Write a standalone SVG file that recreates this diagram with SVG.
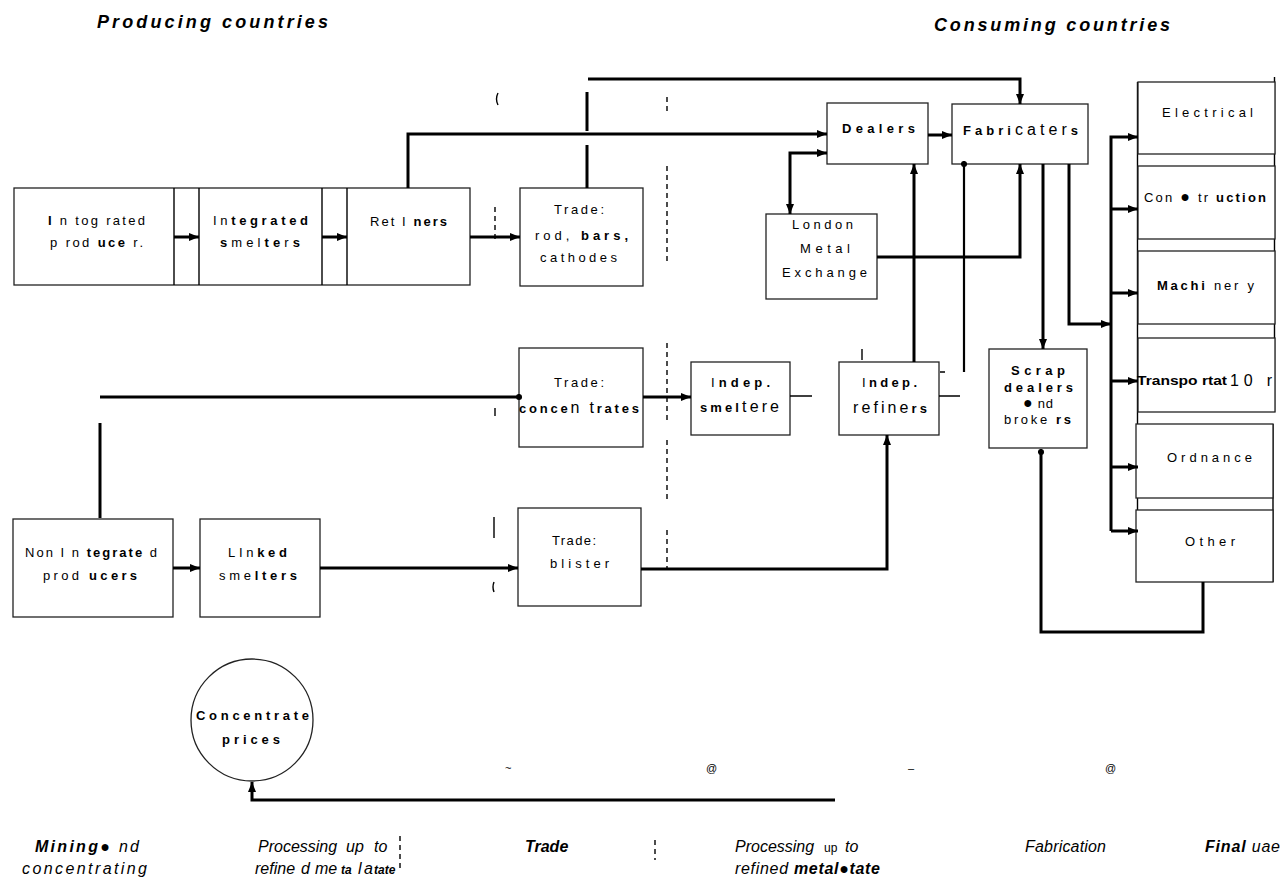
<svg xmlns="http://www.w3.org/2000/svg" width="1284" height="880" viewBox="0 0 1284 880">
<style>
.box{fill:#fff;stroke:#222;stroke-width:1.3}
.c{fill:none;stroke:#000;stroke-width:3}
.c2{fill:none;stroke:#000;stroke-width:2.2}
.thin{fill:none;stroke:#000;stroke-width:1.4}
.d{fill:none;stroke:#000;stroke-width:1.4;stroke-dasharray:5 4}
.t{font-family:"Liberation Sans",Arial,sans-serif;font-size:13px;fill:#000}
.b{font-weight:bold}
.i{font-style:italic}
.big{font-size:16px}
.h{font-family:"Liberation Sans",Arial,sans-serif;font-size:18px;font-weight:bold;font-style:italic}
.f{font-family:"Liberation Sans",Arial,sans-serif;font-size:16px;font-style:italic}
</style>
<defs>
<marker id="a" viewBox="0 0 10 8" markerWidth="10" markerHeight="8" refX="10" refY="4" orient="auto-start-reverse" markerUnits="userSpaceOnUse"><path d="M0,0L10,4L0,8z" fill="#000"/></marker>
<marker id="dot" viewBox="0 0 8 8" markerWidth="7" markerHeight="7" refX="4" refY="4" markerUnits="userSpaceOnUse"><circle cx="4" cy="4" r="3.5" fill="#000"/></marker>
</defs>
<rect width="1284" height="880" fill="#fff"/>

<g id="labels">
<text class="h" x="97" y="28" textLength="231" lengthAdjust="spacing">Producing countries</text>
<text class="h" x="934" y="31" textLength="236" lengthAdjust="spacing">Consuming countries</text>
</g>

<g id="integrated-chain">
<rect class="box" x="14" y="188" width="456" height="97"/>
<line class="thin" x1="174" y1="188" x2="174" y2="285"/>
<line class="thin" x1="199" y1="188" x2="199" y2="285"/>
<line class="thin" x1="322" y1="188" x2="322" y2="285"/>
<line class="thin" x1="347" y1="188" x2="347" y2="285"/>
</g>
<g id="n-integrated-producers">
<text class="t" x="48" y="225" textLength="97" lengthAdjust="spacing"><tspan class="b">I</tspan> n tog rated</text>
<text class="t" x="50" y="247" textLength="93" lengthAdjust="spacing">p rod <tspan class="b">uce</tspan> r.</text>
</g>
<g id="n-integrated-smelters">
<text class="t" x="213" y="225" textLength="95" lengthAdjust="spacing">In<tspan class="b">tegrated</tspan></text>
<text class="t" x="220" y="247" textLength="80" lengthAdjust="spacing"><tspan class="b">s</tspan>mel<tspan class="b">te</tspan>r<tspan class="b">s</tspan></text>
</g>
<g id="n-refiners">
<text class="t" x="370" y="226" textLength="77" lengthAdjust="spacing">Ret I <tspan class="b">ners</tspan></text>
</g>

<g id="n-trade-rod">
<rect class="box" x="520" y="188" width="123" height="98"/>
<text class="t" x="554" y="214" textLength="50" lengthAdjust="spacing">Trade:</text>
<text class="t" x="535" y="240" textLength="93" lengthAdjust="spacing">rod, <tspan class="b">bars,</tspan></text>
<text class="t" x="540" y="262" textLength="77" lengthAdjust="spacing">cathodes</text>
</g>

<g id="n-dealers">
<rect class="box" x="827" y="103" width="101" height="61"/>
<text class="t b" x="842" y="133" textLength="73" lengthAdjust="spacing">Dealers</text>
</g>
<g id="n-fabricators">
<rect class="box" x="952" y="104" width="136" height="60"/>
<text class="t" x="963" y="135" textLength="115" lengthAdjust="spacing"><tspan class="b">Fabri</tspan><tspan class="big">cater</tspan><tspan class="b">s</tspan></text>
</g>
<g id="n-lme">
<rect class="box" x="766" y="214" width="111" height="85"/>
<text class="t" x="792" y="229" textLength="61" lengthAdjust="spacing">London</text>
<text class="t" x="800" y="253" textLength="50" lengthAdjust="spacing">Metal</text>
<text class="t" x="782" y="277" textLength="85" lengthAdjust="spacing">Exchange</text>
</g>

<g id="end-uses">
<line class="thin" x1="1137.5" y1="82" x2="1137.5" y2="582"/>
<line class="thin" x1="1274.5" y1="77" x2="1274.5" y2="412"/>
<line class="thin" x1="1273" y1="424" x2="1273" y2="582"/>
</g>
<g id="n-electrical">
<rect class="box" x="1138" y="82" width="137" height="72"/>
<text class="t" x="1162" y="117" textLength="91" lengthAdjust="spacing">Electrical</text>
</g>
<g id="n-construction">
<rect class="box" x="1138" y="166" width="137" height="73"/>
<text class="t" x="1144" y="202" textLength="122" lengthAdjust="spacing">Con <tspan class="big">●</tspan> tr <tspan class="b">uction</tspan></text>
</g>
<g id="n-machinery">
<rect class="box" x="1138" y="251" width="137" height="73"/>
<text class="t" x="1157" y="290" textLength="97" lengthAdjust="spacing"><tspan class="b">Machi</tspan> ner y</text>
</g>
<g id="n-transportation">
<rect class="box" x="1138" y="338" width="137" height="74"/>
<text class="t b" x="1137" y="385" textLength="90" lengthAdjust="spacingAndGlyphs">Transpo rtat</text>
<text class="t big" x="1230" y="386" textLength="42" lengthAdjust="spacing">10 r</text>
</g>
<g id="n-ordnance">
<rect class="box" x="1136" y="424" width="137" height="74"/>
<text class="t" x="1167" y="462" textLength="85" lengthAdjust="spacing">Ordnance</text>
</g>
<g id="n-other">
<rect class="box" x="1136" y="510" width="137" height="72"/>
<text class="t" x="1185" y="546" textLength="50" lengthAdjust="spacing">Other</text>
</g>

<g id="n-trade-conc">
<rect class="box" x="519" y="348" width="124" height="99"/>
<text class="t" x="554" y="387" textLength="50" lengthAdjust="spacing">Trade:</text>
<text class="t" x="519" y="413" textLength="120" lengthAdjust="spacing"><tspan class="b">conce</tspan><tspan class="big">n t</tspan><tspan class="b">rates</tspan></text>
</g>
<g id="n-indep-smelters">
<rect class="box" x="691" y="362" width="99" height="73"/>
<text class="t" x="711" y="387" textLength="59" lengthAdjust="spacing">I<tspan class="b">ndep.</tspan></text>
<text class="t" x="700" y="412" textLength="79" lengthAdjust="spacing"><tspan class="b">smel</tspan><tspan class="big">tere</tspan></text>
</g>
<g id="n-indep-refiners">
<rect class="box" x="839" y="362" width="100" height="73"/>
<text class="t" x="862" y="387" textLength="55" lengthAdjust="spacing">I<tspan class="b">ndep.</tspan></text>
<text class="t" x="853" y="413" textLength="74" lengthAdjust="spacing"><tspan class="big">refine</tspan><tspan class="b">rs</tspan></text>
</g>
<g id="n-scrap">
<rect class="box" x="989" y="349" width="98" height="99"/>
<text class="t b" x="1011" y="375" textLength="54" lengthAdjust="spacing">Scrap</text>
<text class="t b" x="1004" y="392" textLength="69" lengthAdjust="spacing">dealers</text>
<text class="t" x="1023" y="408" textLength="30" lengthAdjust="spacing"><tspan class="big">●</tspan> nd</text>
<text class="t" x="1004" y="424" textLength="67" lengthAdjust="spacing">broke  <tspan class="b">rs</tspan></text>
</g>

<g id="n-nonintegrated">
<rect class="box" x="13" y="519" width="160" height="98"/>
<text class="t" x="25" y="557" textLength="132" lengthAdjust="spacing">Non I n <tspan class="b">tegrate</tspan> d</text>
<text class="t" x="43" y="580" textLength="94" lengthAdjust="spacing">prod <tspan class="b">ucers</tspan></text>
</g>
<g id="n-linked">
<rect class="box" x="200" y="519" width="120" height="98"/>
<text class="t" x="228" y="557" textLength="59" lengthAdjust="spacing">LIn<tspan class="b">ked</tspan></text>
<text class="t" x="219" y="580" textLength="78" lengthAdjust="spacing">sme<tspan class="b">lters</tspan></text>
</g>
<g id="n-trade-blister">
<rect class="box" x="518" y="508" width="123" height="98"/>
<text class="t" x="552" y="545" textLength="44" lengthAdjust="spacing">Trade:</text>
<text class="t" x="550" y="568" textLength="59" lengthAdjust="spacing">blister</text>
</g>

<g id="n-conc-prices">
<circle class="box" cx="252" cy="720" r="61"/>
<text class="t b" x="196" y="720" textLength="113" lengthAdjust="spacing">Concentrate</text>
<text class="t b" x="222" y="744" textLength="58" lengthAdjust="spacing">prices</text>
</g>

<g id="marks" class="t">
<text x="505" y="772" font-size="11">~</text>
<text x="706" y="772" font-size="11">@</text>
<text x="908" y="772" font-size="11">–</text>
<text x="1105" y="772" font-size="11">@</text>
</g>

<g id="connectors">
<path class="c" d="M174,237H199" marker-end="url(#a)"/>
<path class="c" d="M322,237H347" marker-end="url(#a)"/>
<path class="c" d="M470,237H520" marker-end="url(#a)"/>
<path class="c" d="M408,188V134H827" marker-end="url(#a)"/>
<path class="c" d="M587,188V145M587,131V92"/>
<path class="c" d="M588,79H1020V104" marker-end="url(#a)"/>
<path class="c" d="M928,135H952" marker-end="url(#a)"/>
<path class="c" d="M790,214V153H827" marker-start="url(#a)" marker-end="url(#a)"/>
<path class="c" d="M877,257H1020V164" marker-end="url(#a)"/>
<path class="c" d="M914,362V164" marker-end="url(#a)"/>
<path class="c2" d="M964,164V372" marker-start="url(#dot)"/>
<path class="c" d="M1043,164V349" marker-end="url(#a)"/>
<path class="c" d="M1069,164V324H1111" marker-end="url(#a)"/>
<path class="c" d="M1111,531V137H1138" marker-end="url(#a)"/>
<path class="c" d="M1111,531H1138" marker-end="url(#a)"/>
<path class="c" d="M1111,209H1138" marker-end="url(#a)"/>
<path class="c" d="M1111,293H1138" marker-end="url(#a)"/>
<path class="c" d="M1111,381H1138" marker-end="url(#a)"/>
<path class="c" d="M1111,467H1138" marker-end="url(#a)"/>
<path class="c" d="M1041,452V632H1203V582" marker-start="url(#dot)"/>
<path class="c" d="M100,518V423"/>
<path class="c" d="M100,397H519" marker-end="url(#dot)"/>
<path class="c" d="M643,397H691" marker-end="url(#a)"/>
<path class="thin" d="M790,396H812M939,396H960M862,349V360M940,372H945"/>
<path class="c" d="M173,568H200" marker-end="url(#a)"/>
<path class="c" d="M320,568H518" marker-end="url(#a)"/>
<path class="c" d="M641,569H887V435" marker-end="url(#a)"/>
<path class="c" d="M835,800H252V782" marker-end="url(#a)"/>
</g>

<g id="boundaries">
<path class="d" d="M495,207V240"/>
<path class="thin" d="M498,93Q495,99 498,105M495,408V416M494,517V538M494,582Q492,587 494,592"/>
<path class="d" d="M667,97V112M667,166V262M667,343V420M667,440V500M667,530V568"/>
<path class="d" d="M400,836V870M655,840V860"/>
</g>

<g id="stages">
<text class="f" x="35" y="852" textLength="104" lengthAdjust="spacing"><tspan class="b">Mining●</tspan> nd</text>
<text class="f" x="22" y="874" textLength="125" lengthAdjust="spacing">concentrating</text>
<text class="f" font-size="15" y="852"><tspan x="258">Processing</tspan><tspan x="346">up</tspan><tspan x="374">to</tspan></text>
<text class="f" font-size="15" y="874"><tspan x="255">refine</tspan><tspan x="301">d</tspan><tspan x="315">me</tspan><tspan x="341" font-weight="bold" font-size="12">ta</tspan><tspan x="358">l</tspan><tspan x="364">a</tspan><tspan x="374" font-weight="bold" font-size="12">tate</tspan></text>
<text class="f b" font-size="12" x="525" y="852">Trade</text>
<text class="f" font-size="15" y="852"><tspan x="735">Processing</tspan><tspan x="824" font-style="normal" font-size="12">up</tspan><tspan x="845">to</tspan></text>
<text class="f" font-size="15" x="735" y="874" textLength="145" lengthAdjust="spacing">refined <tspan class="b">metal●tate</tspan></text>
<text class="f" font-size="15" x="1025" y="852" textLength="81" lengthAdjust="spacing">Fabrication</text>
<text class="f" font-size="15" x="1205" y="852" textLength="75" lengthAdjust="spacing"><tspan class="b">Final</tspan> uae</text>
</g>
</svg>
